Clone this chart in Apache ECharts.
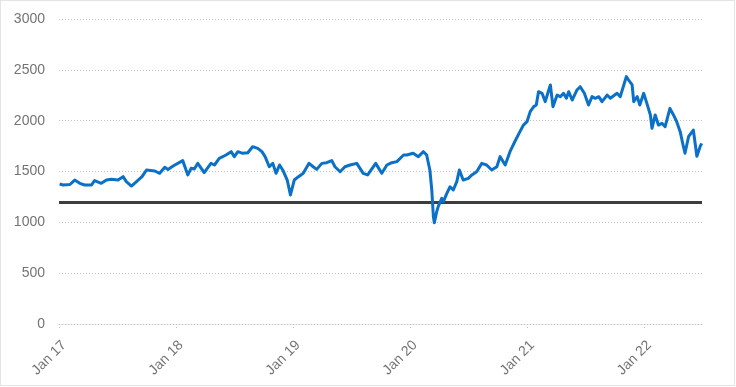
<!DOCTYPE html>
<html>
<head>
<meta charset="utf-8">
<script src="https://cdn.jsdelivr.net/npm/echarts@6/dist/echarts.min.js"></script>
<style>
  html, body { margin: 0; padding: 0; background: #ffffff; }
  #chart { width: 736px; height: 387px; }
</style>
</head>
<body>
<div id="chart"></div>
<script>
// ---- Data ----
const dates = [
  '2017-01-03','2017-01-14','2017-02-04','2017-02-19','2017-03-07','2017-03-22','2017-04-12','2017-04-22',
  '2017-05-13','2017-05-29','2017-06-13','2017-07-04','2017-07-20','2017-07-30','2017-08-15','2017-09-05',
  '2017-09-17','2017-10-01','2017-10-27','2017-11-11','2017-11-27','2017-12-07','2017-12-23',
  '2018-01-22','2018-02-07','2018-02-17','2018-02-27','2018-03-10','2018-03-30','2018-04-20','2018-05-01',
  '2018-05-16','2018-06-06','2018-06-22','2018-07-02','2018-07-13','2018-07-28','2018-08-13','2018-08-28',
  '2018-09-13','2018-09-26','2018-10-06','2018-10-19','2018-10-30','2018-11-09','2018-11-20','2018-11-30',
  '2018-12-14','2018-12-24',
  '2019-01-05','2019-01-18','2019-02-02','2019-02-20','2019-03-05','2019-03-16','2019-04-01','2019-04-16',
  '2019-05-02','2019-05-12','2019-05-28','2019-06-12','2019-06-28','2019-07-19','2019-08-08','2019-08-22',
  '2019-09-09','2019-09-16','2019-10-05','2019-10-21','2019-11-05','2019-11-21','2019-12-12','2019-12-22',
  '2020-01-11','2020-01-27','2020-02-12','2020-02-22','2020-03-03','2020-03-09','2020-03-14','2020-03-17',
  '2020-03-24','2020-03-29','2020-04-09','2020-04-14','2020-04-25','2020-05-05','2020-05-15','2020-05-26',
  '2020-06-03','2020-06-15','2020-07-01','2020-07-12','2020-07-27','2020-08-12','2020-08-27','2020-09-12',
  '2020-09-28','2020-10-08','2020-10-24','2020-11-08','2020-11-24','2020-12-09','2020-12-20','2020-12-31',
  '2021-01-10','2021-01-21','2021-01-29','2021-02-05','2021-02-16','2021-02-26','2021-03-09','2021-03-14',
  '2021-03-22','2021-04-04','2021-04-14','2021-04-24','2021-05-03','2021-05-10','2021-05-21','2021-06-05',
  '2021-06-15','2021-06-28','2021-07-11','2021-07-22','2021-08-01','2021-08-12','2021-08-22','2021-09-07',
  '2021-09-17','2021-10-08','2021-10-18','2021-10-29','2021-11-06','2021-11-13','2021-11-24','2021-11-29',
  '2021-12-10','2021-12-18','2021-12-30',
  '2022-01-09','2022-01-20','2022-01-25','2022-02-04','2022-02-14','2022-02-25','2022-03-07','2022-03-22',
  '2022-04-02','2022-04-12','2022-04-23','2022-05-03','2022-05-08','2022-05-19','2022-06-03','2022-06-14',
  '2022-06-24','2022-06-29'
];
const indexValues = [
  1377,1367,1372,1416,1384,1367,1367,1410,
  1384,1416,1423,1416,1449,1400,1357,1416,
  1449,1515,1505,1482,1541,1520,1554,
  1607,1466,1531,1525,1580,1489,1580,1564,
  1629,1662,1695,1646,1695,1679,1685,1744,
  1728,1695,1646,1547,1580,1482,1564,1515,
  1416,1269,
  1416,1449,1482,1580,1547,1521,1580,1587,
  1607,1547,1498,1547,1564,1580,1482,1466,
  1547,1580,1482,1564,1587,1597,1662,1662,
  1679,1646,1695,1662,1515,1318,1055,996,
  1100,1154,1236,1203,1285,1350,1318,1400,
  1515,1416,1433,1466,1498,1580,1564,1515,
  1547,1646,1564,1695,1800,1892,1957,1990,
  2088,2138,2154,2285,2269,2187,2302,2351,
  2138,2252,2236,2269,2220,2285,2203,2302,
  2334,2269,2154,2236,2220,2236,2187,2252,
  2220,2269,2236,2351,2433,2400,2351,2187,
  2236,2154,2269,
  2170,2056,1925,2056,1957,1974,1941,2121,
  2056,1990,1892,1744,1680,1842,1908,1650,
  1744,1777
];
const thresholdValue = 1195;
const xStart = '2017-01-01';
const xEnd = '2022-06-30';
const yTicks = [0, 500, 1000, 1500, 2000, 2500, 3000];

const seriesData = dates.map((d, i) => [d, indexValues[i]]);
const thresholdData = [[xStart, thresholdValue], [xEnd, thresholdValue]];

const chart = echarts.init(document.getElementById('chart'), null, { renderer: 'canvas' });
const labelColor = '#737373';
const gridColor = '#c4c4c4';
const YEAR = 365 * 24 * 3600 * 1000;

chart.setOption({
  animation: false,
  backgroundColor: '#ffffff',
  graphic: [{
    type: 'rect',
    shape: { x: 0.5, y: 0.5, width: 734, height: 385 },
    style: { fill: 'none', stroke: '#c8c8c8', lineWidth: 1, lineDash: [1, 1] },
    silent: true
  }],
  grid: { left: 59, right: 34, top: 19, bottom: 63, containLabel: false },
  xAxis: {
    type: 'time',
    min: xStart,
    max: xEnd,
    minInterval: YEAR,
    maxInterval: YEAR + 2 * 24 * 3600 * 1000,
    splitLine: { show: false },
    axisLine: { show: true, lineStyle: { color: gridColor, type: [1, 2], width: 1 } },
    axisTick: { show: true, length: 6, lineStyle: { color: gridColor, type: [1, 2] } },
    axisLabel: {
      rotate: 45,
      margin: 14,
      align: 'right',
      verticalAlign: 'top',
      color: labelColor,
      fontSize: 14,
      fontFamily: 'Liberation Sans, Arial, sans-serif',
      showMinLabel: true,
      showMaxLabel: false,
      formatter: function (val) {
        const d = new Date(val);
        return 'Jan ' + String(d.getFullYear()).slice(2);
      }
    }
  },
  yAxis: {
    type: 'value',
    min: yTicks[0],
    max: yTicks[yTicks.length - 1],
    interval: yTicks[1] - yTicks[0],
    axisLine: { show: false },
    axisTick: { show: false },
    splitLine: { show: true, lineStyle: { color: gridColor, type: [1, 2], width: 1 } },
    axisLabel: {
      margin: 14,
      color: labelColor,
      fontSize: 14,
      fontFamily: 'Liberation Sans, Arial, sans-serif',
      formatter: function (v) { return String(v); }
    }
  },
  series: [
    {
      name: 'Threshold',
      type: 'line',
      data: thresholdData,
      symbol: 'none',
      lineStyle: { color: '#3d3d3d', width: 3 },
      z: 2
    },
    {
      name: 'Index',
      type: 'line',
      data: seriesData,
      symbol: 'none',
      lineStyle: { color: '#0a70c8', width: 3, join: 'round' },
      z: 3
    }
  ]
});
</script>
</body>
</html>
